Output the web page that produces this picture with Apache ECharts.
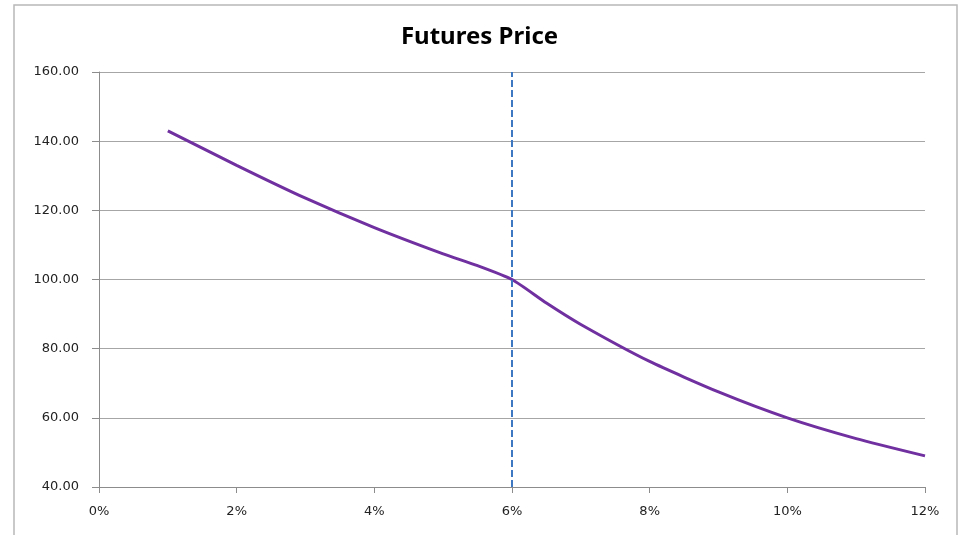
<!DOCTYPE html>
<html>
<head>
<meta charset="utf-8">
<script src="https://cdn.jsdelivr.net/npm/echarts@6/dist/echarts.min.js"></script>
<style>
    html, body { margin: 0; padding: 0; background: #fff; }
    #chart { width: 959px; height: 535px; }
</style>
</head>
<body>
<div id="chart"></div>
<script>
// 数据
const rates = [1, 2, 3, 4, 5, 5.5, 6, 6.5, 7, 8, 9, 10, 11, 12];
const prices = [143, 133, 123.5, 115, 107.4, 104, 100, 93.2, 87, 76.3, 67.5, 60, 54, 49];
const xTicks = [0, 2, 4, 6, 8, 10, 12];
const yTicks = [40, 60, 80, 100, 120, 140, 160];
const markRate = 6;

function initChart() {
    const chartDom = document.getElementById('chart');
    const myChart = echarts.init(chartDom);

    const labelStyle = {
        color: '#222',
        fontFamily: 'DejaVu Sans',
        fontSize: 13
    };

    const option = {
        backgroundColor: '#fff',
        animation: false,
        title: {
            text: 'Futures Price',
            left: 'center',
            top: 20,
            textStyle: {
                fontFamily: 'Noto Sans',
                fontWeight: 'bold',
                fontSize: 24,
                color: '#000'
            }
        },
        graphic: [{
            type: 'rect',
            shape: { x: 14, y: 5, width: 943, height: 540 },
            style: { fill: 'none', stroke: '#b8b8b8', lineWidth: 1.5 },
            silent: true
        }],
        grid: {
            top: 72,
            right: 34,
            bottom: 48,
            left: 99
        },
        xAxis: {
            type: 'value',
            min: xTicks[0],
            max: xTicks[xTicks.length - 1],
            interval: 2,
            axisLine: { lineStyle: { color: '#8c8c8c', width: 1 } },
            axisTick: { show: true, length: 6, lineStyle: { color: '#8c8c8c' } },
            axisLabel: Object.assign({ margin: 18, formatter: v => v + '%' }, labelStyle),
            splitLine: { show: false }
        },
        yAxis: {
            type: 'value',
            min: yTicks[0],
            max: yTicks[yTicks.length - 1],
            interval: 20,
            axisLine: { show: true, lineStyle: { color: '#8c8c8c', width: 1 } },
            axisTick: { show: true, length: 7, lineStyle: { color: '#8c8c8c' } },
            axisLabel: Object.assign({ margin: 20, formatter: v => v.toFixed(2) }, labelStyle),
            splitLine: { lineStyle: { color: '#a6a6a6', width: 1 } }
        },
        series: [{
            type: 'line',
            data: rates.map((r, i) => [r, prices[i]]),
            smooth: 0.2,
            showSymbol: false,
            lineStyle: { color: '#7030a0', width: 3 },
            itemStyle: { color: '#7030a0' },
            markLine: {
                silent: true,
                symbol: 'none',
                label: { show: false },
                lineStyle: { color: '#3f78c2', type: [7, 3], width: 2 },
                data: [{ xAxis: markRate }]
            }
        }]
    };

    myChart.setOption(option);

    window.addEventListener('resize', () => {
        myChart.resize();
    });
}

initChart();
</script>
</body>
</html>
